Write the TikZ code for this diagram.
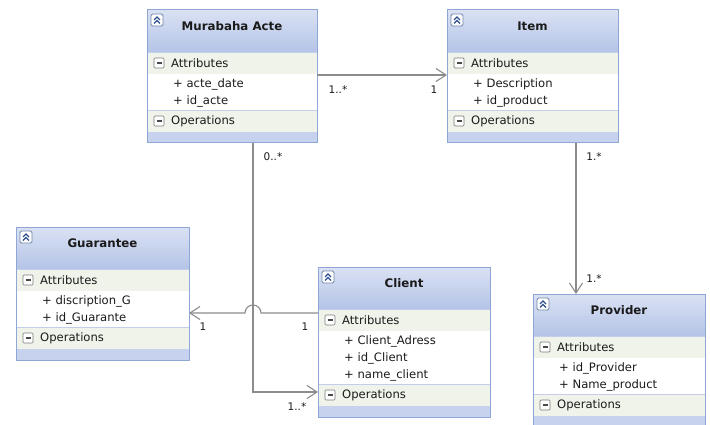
\documentclass[tikz,border=0pt]{standalone}
\usepackage{fontspec}
\setmainfont{DejaVu Sans}
\usetikzlibrary{arrows.meta,calc}

\definecolor{clsborder}{HTML}{8EA7D4}
\definecolor{hdtop}{HTML}{DAE1F3}
\definecolor{hdbot}{HTML}{B4C4E7}
\definecolor{secfill}{HTML}{F0F3EA}
\definecolor{barfill}{HTML}{C6D2EE}
\definecolor{sepcol}{HTML}{C3CFEA}
\definecolor{linkcol}{HTML}{8C8C8C}
\definecolor{txtcol}{HTML}{1A1A1A}
\definecolor{iconblue}{HTML}{2F4F8F}
\definecolor{icongray}{HTML}{7A7A7A}

\tikzset{
  assoc/.style={draw=linkcol, line width=1.1pt, -{Straight Barb[length=10pt,width=13pt]}},
  mult/.style={font=\fontsize{10.5}{12}\selectfont, text=txtcol, inner sep=0pt},
  ctitle/.style={font=\fontsize{11.8}{14}\selectfont\bfseries, text=txtcol, inner sep=0pt},
  ctext/.style={font=\fontsize{11.6}{14}\selectfont, text=txtcol, inner sep=0pt, anchor=west},
  clsframe/.style={draw=clsborder, line width=1pt, rectangle, inner sep=0pt, outer sep=0pt, anchor=north west},
}

% collapse button in a class header (top-left corner at #1,#2)
\newcommand\collapsebtn[2]{%
  \draw[clsborder!80!black, fill=white, rounded corners=1.5pt, line width=0.8pt] ({#1},{#2}) rectangle ++(12,12);
  \draw[iconblue, line width=1.1pt] ({#1+3},{#2+6}) -- ({#1+6},{#2+3}) -- ({#1+9},{#2+6});
  \draw[iconblue, line width=1.1pt] ({#1+3},{#2+9.5}) -- ({#1+6},{#2+6.5}) -- ({#1+9},{#2+9.5});
}
% section toggle (left edge #1, vertical centre #2)
\newcommand\minusbtn[2]{%
  \draw[icongray, fill=white, rounded corners=1pt, line width=0.7pt] ({#1},{#2-5}) rectangle ++(10,10);
  \draw[icongray!60!black, line width=1.4pt] ({#1+2.5},{#2}) -- ({#1+7.5},{#2});
}

% UML class: #1 id, #2 x, #3 y, #4 width, #5 number of attributes, #6 title, #7 attributes
\newcommand\umlclass[7]{%
  \pgfmathsetmacro\xa{#2}%
  \pgfmathsetmacro\xb{#2+#4}%
  \pgfmathsetmacro\xm{#2+#4/2}%
  \pgfmathsetmacro\ya{#3}%
  \pgfmathsetmacro\yb{#3+42}%
  \pgfmathsetmacro\yc{\yb+22}%
  \pgfmathsetmacro\yd{\yc+17*#5+2}%
  \pgfmathsetmacro\ye{\yd+22}%
  \pgfmathsetmacro\yf{\ye+11}%
  \pgfmathsetmacro\hh{\yf-\ya}%
  \pgfmathsetmacro\ymattr{(\yb+\yc)/2}%
  \pgfmathsetmacro\ymops{(\yd+\ye)/2}%
  \shade[top color=hdtop, bottom color=hdbot] (\xa,\ya) rectangle (\xb,\yb);
  \fill[secfill] (\xa,\yb) rectangle (\xb,\yc);
  \fill[white] (\xa,\yc) rectangle (\xb,\yd);
  \fill[secfill] (\xa,\yd) rectangle (\xb,\ye);
  \fill[barfill] (\xa,\ye) rectangle (\xb,\yf);
  \draw[sepcol, line width=0.8pt] (\xa,\yb) -- (\xb,\yb);
  \draw[sepcol, line width=0.8pt] (\xa,\yd) -- (\xb,\yd);
  \node[clsframe, minimum width=#4pt, minimum height=\hh pt] (#1) at (\xa,\ya) {};
  \collapsebtn{\xa+4}{\ya+4}
  \node[ctitle] (#1-title) at (\xm, {\ya+16}) {#6};
  \minusbtn{\xa+7}{\ymattr}
  \node[ctext] (#1-attr) at ({\xa+24}, \ymattr) {Attributes};
  \foreach \t [count=\i] in {#7} {
    \node[ctext] (#1-a\i) at ({\xa+26}, {\yc+10+17*(\i-1)}) {+ \t};
  }
  \minusbtn{\xa+7}{\ymops}
  \node[ctext] (#1-ops) at ({\xa+24}, \ymops) {Operations};
}

\begin{document}
\begin{tikzpicture}[x=1pt, y=-1pt]
  \useasboundingbox (0,0) rectangle (710,425);
  \fill[white] (0,0) rectangle (710,425);

  \umlclass{ma}{147}{10}{170}{2}{Murabaha Acte}{acte\_date, id\_acte}
  \umlclass{it}{447}{10}{171}{2}{Item}{Description, id\_product}
  \umlclass{gu}{16}{227}{173}{2}{Guarantee}{discription\_G, id\_Guarante}
  \umlclass{cl}{318}{267}{172}{3}{Client}{Client\_Adress, id\_Client, name\_client}
  \umlclass{pr}{533}{294}{172}{2}{Provider}{id\_Provider, Name\_product}

  % connection points
  \coordinate (ma-e) at ([yshift=-65pt]ma.north east);
  \coordinate (it-w) at (it.west |- ma-e);
  \coordinate (it-s) at ([xshift=129pt]it.south west);
  \coordinate (pr-n) at (pr.north -| it-s);
  \coordinate (ma-s) at ([xshift=106pt]ma.south west);
  \coordinate (cl-ops) at ([yshift=-125pt]cl.north west);
  \coordinate (cl-w) at ([yshift=-46pt]cl.north west);
  \coordinate (gu-e) at (gu.east |- cl-w);
  \coordinate (cross) at (ma-s |- cl-w);

  % associations
  \draw[assoc] (ma-e) -- (it-w);
  \draw[assoc] (it-s) -- (pr-n);
  \draw[assoc] (ma-s) |- (cl-ops);
  \draw[assoc] (cl-w) -- ([xshift=8pt]cross) arc[start angle=0, end angle=180, radius=8pt] -- (gu-e);

  % multiplicities
  \node[mult] (m1) at (338,90) {1..*};
  \node[mult] (m2) at (434,90) {1};
  \node[mult] (m3) at (594,157) {1.*};
  \node[mult] (m4) at (594,279) {1.*};
  \node[mult] (m5) at (273,157) {0..*};
  \node[mult] (m6) at (297,407) {1..*};
  \node[mult] (m7) at (203,327) {1};
  \node[mult] (m8) at (305,327) {1};
\end{tikzpicture}
\end{document}
